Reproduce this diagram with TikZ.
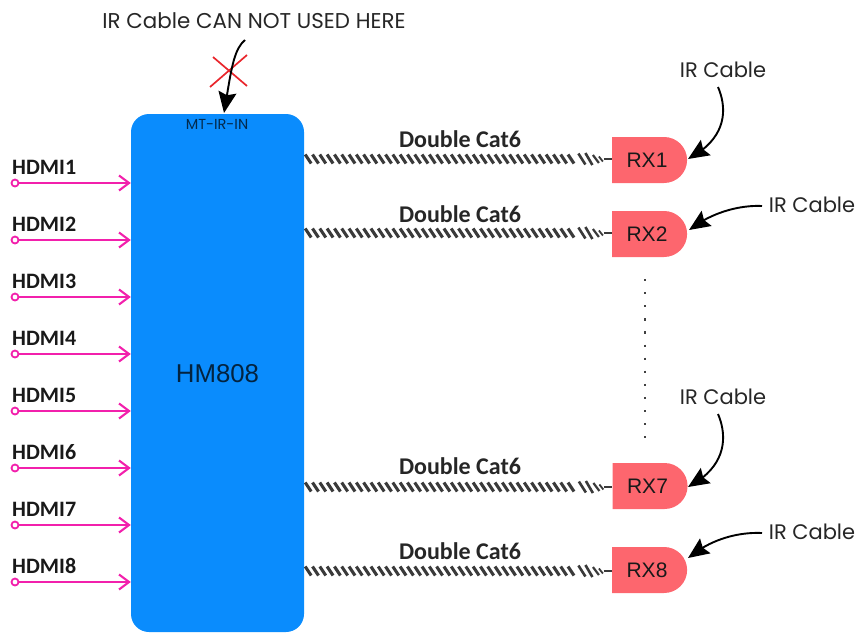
\documentclass[tikz,border=0pt]{standalone}
\usepackage{fontspec}
\setmainfont{Liberation Sans}
\newfontfamily\gothic{Poppins}
\newfontfamily\hum{Carlito}
\usetikzlibrary{arrows.meta,shapes.misc,decorations.markings,bending}
\definecolor{hmblue}{HTML}{0A8CFD}
\definecolor{rxred}{HTML}{FD666E}
\definecolor{hdmipink}{HTML}{F220AC}
\definecolor{xred}{HTML}{E9262C}
\definecolor{cabledark}{HTML}{3A3A3A}
\tikzset{
  hmbox/.style={fill=hmblue,rounded corners=18pt,minimum width=173pt,minimum height=518pt,inner sep=0pt,font=\fontsize{25.8}{28}\selectfont,text=black!75!hmblue},
  rxbox/.style={rounded rectangle,rounded rectangle left arc=none,fill=rxred,minimum width=75pt,minimum height=46pt,inner sep=0pt,font=\fontsize{21}{23}\selectfont,text=black!90},
  irlabel/.style={inner sep=0pt,font=\gothic\fontsize{21}{23}\selectfont,text=black!85},
  hdmilabel/.style={inner sep=0pt,anchor=base west,font=\hum\bfseries\fontsize{22}{24}\selectfont,text=black!90},
  catlabel/.style={inner sep=0pt,font=\hum\bfseries\fontsize{24}{26}\selectfont,text=black!85},
  hdmiport/.style={circle,draw=hdmipink,line width=1.8pt,fill=white,minimum size=7pt,inner sep=0pt},
  hdmiline/.style={draw=hdmipink,line width=2.1pt,-{Straight Barb[length=10pt,width=15pt,line width=2.1pt]}},
  ircable/.style={draw=black,line width=1.9pt,-{Stealth[length=21pt,width=18pt,inset=3pt,flex]}},
  cablecat/.style={
    postaction={decorate,decoration={markings,
      mark=between positions 4pt and -36pt step 7.3pt with {
        \draw[cabledark,line width=3.1pt] (-3pt,4.5pt) -- (3pt,-4.5pt);},
      mark=at position -30pt with {\draw[cabledark,line width=2.6pt] (-3.5pt,5.5pt) -- (3.5pt,-5.5pt);},
      mark=at position -23pt with {\draw[cabledark,line width=2.6pt] (-3.5pt,6pt) -- (3.5pt,-6pt);},
      mark=at position -16pt with {\draw[cabledark,line width=2.2pt] (-3pt,4pt) -- (3pt,-4pt);},
      mark=at position -11pt with {\draw[cabledark,line width=1.8pt] (-2pt,2.5pt) -- (2pt,-2.5pt);},
      mark=at position -8pt with {\draw[cabledark,line width=1.2pt] (0pt,0pt) -- (8pt,0pt);}
      }}},
}
\begin{document}
\begin{tikzpicture}[x=1pt,y=-1pt]
\useasboundingbox (0,0) rectangle (859,632);
% main box
\node[hmbox,text depth=-3pt] (hm) at (217.5,373) {HM808};
\node[inner sep=0pt,font=\gothic\fontsize{14.5}{16}\selectfont,text=black!70!hmblue] (mtin) at (217,124) {MT-IR-IN};
% title and forbidden cable
\node[irlabel,font=\gothic\fontsize{21.4}{23}\selectfont] (title) at (254,21) {IR Cable CAN NOT USED HERE};
\coordinate (forbid) at (245,40);
\coordinate (irin) at (224,113);
\coordinate (xa) at (213,57);
\coordinate (xb) at (247,86);
\coordinate (xc) at (247,55);
\coordinate (xd) at (210,87);
\draw[xred,line width=1.7pt] (xa) -- (xb);
\draw[xred,line width=1.7pt] (xc) -- (xd);
\draw[ircable] (forbid) .. controls (233,50) and (231,72) .. (irin);
% HDMI inputs
\foreach \i/\y in {1/183,2/240,3/297,4/354,5/411,6/468,7/525,8/582}{
  \node[hdmilabel] (h\i) at (12,\y-9) {HDMI\i};
  \node[hdmiport] (p\i) at (15,\y) {};
  \draw[hdmiline] (p\i) -- (hm.west |- p\i);
}
% receivers
\node[rxbox] (rx1) at (649,160) {\hspace*{-4pt}RX1};
\node[rxbox] (rx2) at (649,234) {\hspace*{-4pt}RX2};
\node[rxbox] (rx7) at (649.5,486) {\hspace*{-4pt}RX7};
\node[rxbox] (rx8) at (649,570) {\hspace*{-4pt}RX8};
% double Cat6 cables
\foreach \r/\y/\ly in {1/159/139,2/233/214,7/487/466,8/571/551}{
  \coordinate (c\r) at (hm.east |- 0,\y);
  \path[cablecat] (c\r) -- (rx\r.west |- c\r);
  \node[catlabel] (d\r) at (460,\ly) {Double Cat6};
}
% dotted separator
\coordinate (dota) at (645,279);
\coordinate (dotb) at (645,438);
\draw[black!75,line width=2.2pt,dash pattern=on 2.2pt off 10.9pt] (dota) -- (dotb);
% IR cables
\node[irlabel] (ir1) at (723,70) {IR Cable};
\node[irlabel] (ir2) at (812,205) {IR Cable};
\node[irlabel] (ir7) at (723,397) {IR Cable};
\node[irlabel] (ir8) at (812,532) {IR Cable};
\coordinate (s1) at (718,87);
\coordinate (s2) at (762,206);
\coordinate (s7) at (718,414);
\coordinate (s8) at (762,533);
\coordinate (t1) at (688,159);
\coordinate (t2) at (689,230);
\coordinate (t7) at (688,487);
\coordinate (t8) at (688,558);
\draw[ircable] (s1) .. controls (727,108) and (728,138) .. (t1);
\draw[ircable] (s2) .. controls (740,205) and (712,212) .. (t2);
\draw[ircable] (s7) .. controls (727,435) and (728,466) .. (t7);
\draw[ircable] (s8) .. controls (740,532) and (712,538) .. (t8);
\end{tikzpicture}
\end{document}
